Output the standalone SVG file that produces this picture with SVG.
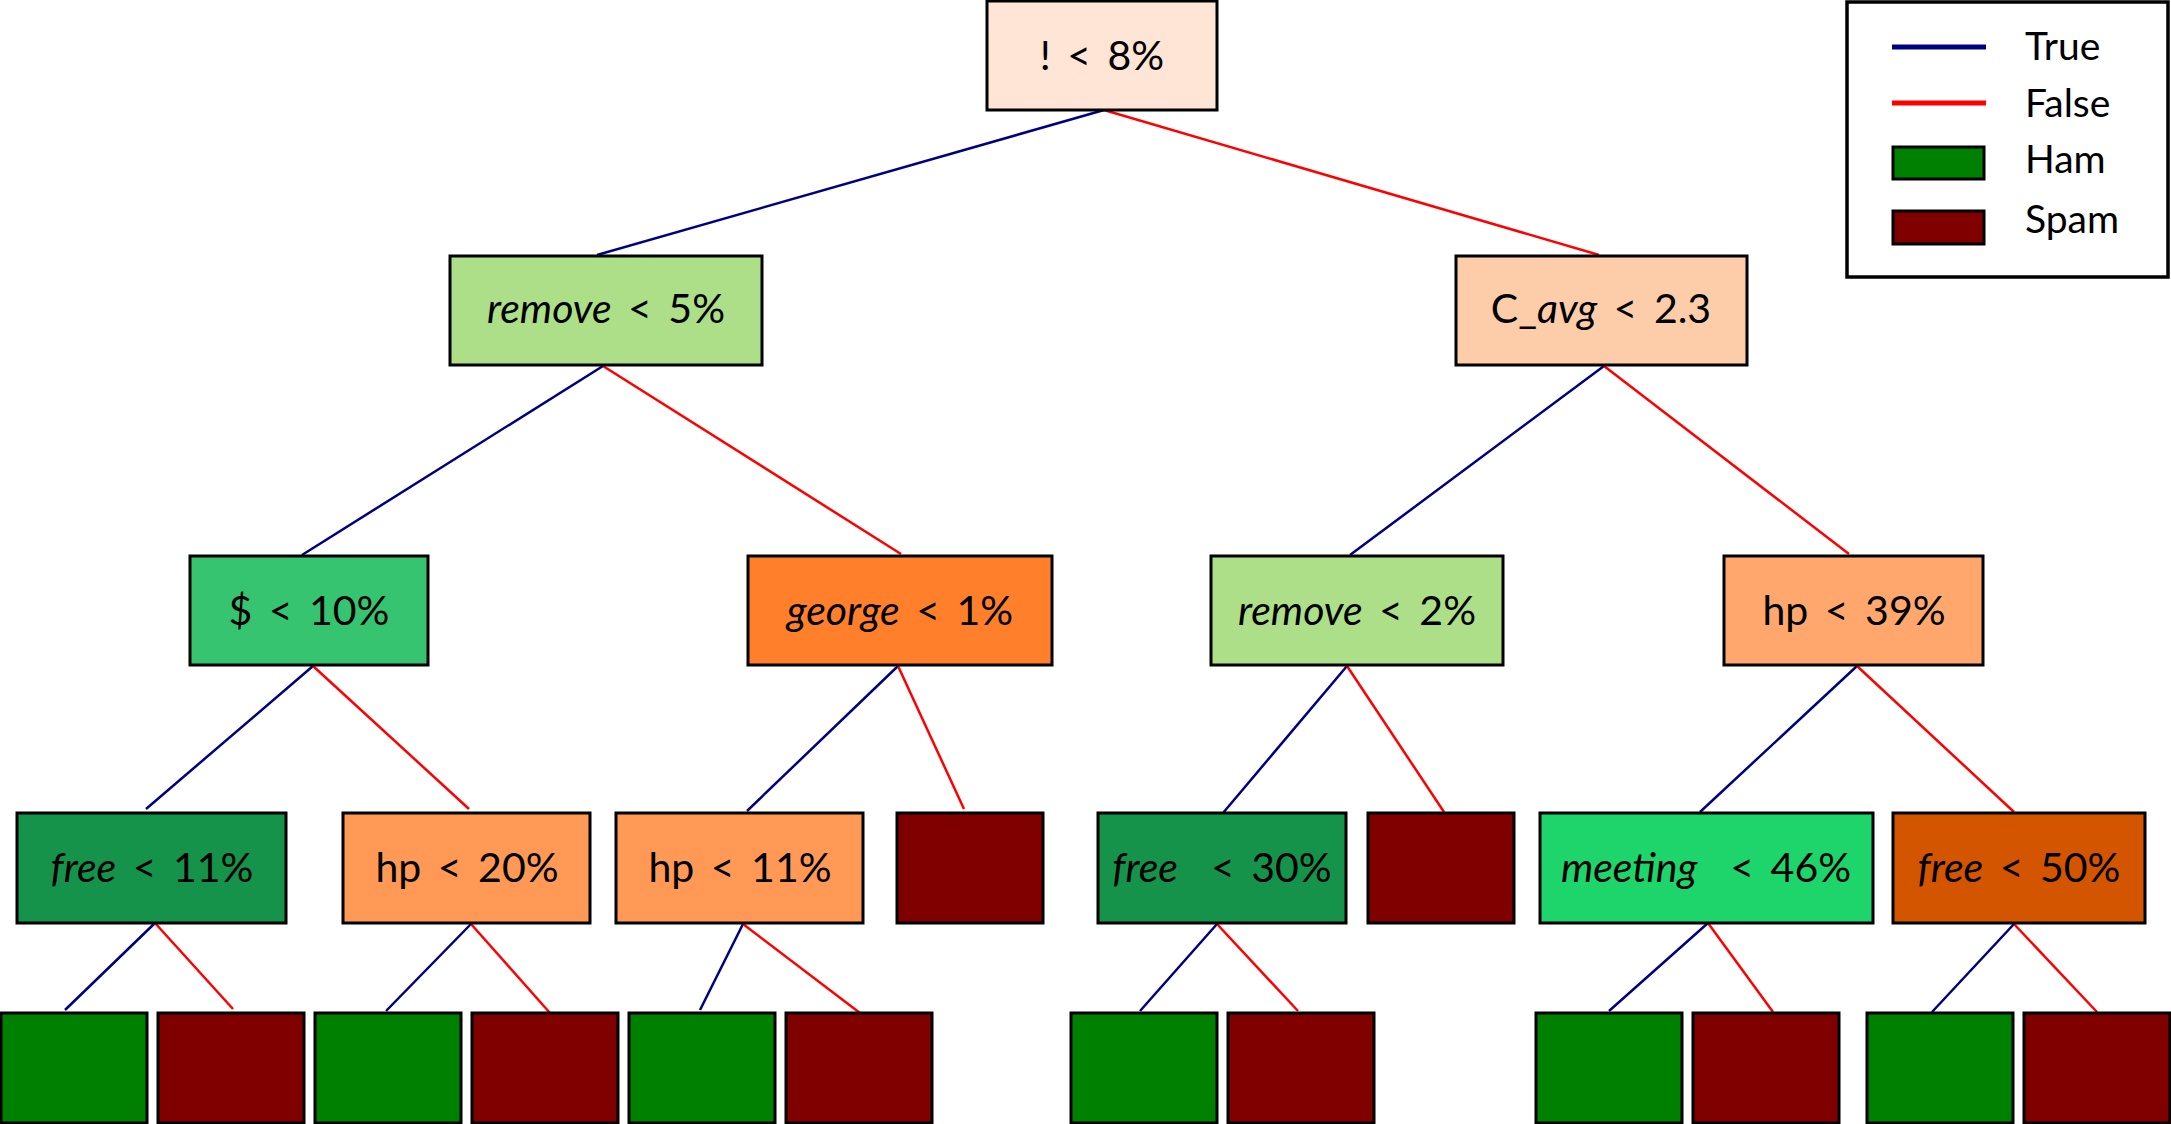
<svg xmlns="http://www.w3.org/2000/svg" width="2171" height="1124" viewBox="0 0 2171 1124">
<style>
.n{stroke:#000;stroke-width:3}
.t{font-family:Lato,"Open Sans","DejaVu Sans",sans-serif;font-size:41px;fill:#000;text-anchor:middle;white-space:pre;word-spacing:6px}
.i{font-style:italic}
.T{stroke:#000080;stroke-width:2.5;fill:none}
.F{stroke:#ff0000;stroke-width:2.5;fill:none}
.ham{fill:#008000}
.spam{fill:#800000}
.lg{font-family:Lato,"Open Sans","DejaVu Sans",sans-serif;font-size:39px;fill:#000}
</style>
<rect width="2171" height="1124" fill="#fff"/>
<g id="connectors">
<line class="T" x1="1104" y1="110" x2="597" y2="255"/>
<line class="F" x1="1104" y1="110" x2="1599" y2="255"/>
<line class="T" x1="603" y1="366" x2="302" y2="555"/>
<line class="F" x1="603" y1="366" x2="901" y2="554"/>
<line class="T" x1="1604" y1="366" x2="1350" y2="555"/>
<line class="F" x1="1604" y1="366" x2="1849" y2="554"/>
<line class="T" x1="313" y1="666" x2="146" y2="809"/>
<line class="F" x1="313" y1="666" x2="469" y2="809"/>
<line class="T" x1="898" y1="666" x2="747" y2="811"/>
<line class="F" x1="898" y1="666" x2="964" y2="809"/>
<line class="T" x1="1347" y1="666" x2="1223" y2="813"/>
<line class="F" x1="1347" y1="666" x2="1444" y2="812"/>
<line class="T" x1="1857" y1="666" x2="1700" y2="812"/>
<line class="F" x1="1857" y1="666" x2="2014" y2="812"/>
<line class="T" x1="155" y1="923" x2="65" y2="1010"/>
<line class="F" x1="155" y1="923" x2="233" y2="1009"/>
<line class="T" x1="471" y1="924" x2="386" y2="1011"/>
<line class="F" x1="471" y1="924" x2="550" y2="1013"/>
<line class="T" x1="743" y1="924" x2="700" y2="1010"/>
<line class="F" x1="743" y1="924" x2="860" y2="1013"/>
<line class="T" x1="1217" y1="924" x2="1140" y2="1011"/>
<line class="F" x1="1217" y1="924" x2="1298" y2="1011"/>
<line class="T" x1="1708" y1="923" x2="1609" y2="1011"/>
<line class="F" x1="1708" y1="923" x2="1773" y2="1012"/>
<line class="T" x1="2014" y1="924" x2="1932" y2="1012"/>
<line class="F" x1="2014" y1="924" x2="2097" y2="1012"/>
</g>
<g id="n_root"><rect class="n" x="987" y="1" width="230" height="109" fill="#fee5d5"/><text class="t" x="1102" y="70">! &lt; 8%</text></g>
<g id="n_remove5"><rect class="n" x="450" y="256" width="312" height="109" fill="#acdf87"/><text class="t" x="606" y="323"><tspan class="i">remove</tspan> &lt; 5%</text></g>
<g id="n_cavg"><rect class="n" x="1456" y="256" width="291" height="109" fill="#fdcca9"/><text class="t" x="1601" y="323">C_<tspan class="i">avg</tspan> &lt; 2.3</text></g>
<g id="n_dollar"><rect class="n" x="190" y="556" width="238" height="109" fill="#36c470"/><text class="t" x="309" y="625">$ &lt; 10%</text></g>
<g id="n_george"><rect class="n" x="748" y="556" width="304" height="109" fill="#ff7f2a"/><text class="t" x="900" y="625"><tspan class="i">george</tspan> &lt; 1%</text></g>
<g id="n_remove2"><rect class="n" x="1211" y="556" width="292" height="109" fill="#acdf87"/><text class="t" x="1357" y="625"><tspan class="i">remove</tspan> &lt; 2%</text></g>
<g id="n_hp39"><rect class="n" x="1724" y="556" width="259" height="109" fill="#ffa76d"/><text class="t" x="1854" y="625">hp &lt; 39%</text></g>
<g id="n_free11"><rect class="n" x="17" y="813" width="269" height="110" fill="#16934a"/><text class="t" x="152" y="882"><tspan class="i">free</tspan> &lt; 11%</text></g>
<g id="n_hp20"><rect class="n" x="343" y="813" width="247" height="110" fill="#ff9955"/><text class="t" x="467" y="882">hp &lt; 20%</text></g>
<g id="n_hp11"><rect class="n" x="616" y="813" width="247" height="110" fill="#ff9955"/><text class="t" x="740" y="882">hp &lt; 11%</text></g>
<g id="n_spam_l3a"><rect class="n spam" x="897" y="813" width="146" height="110"/></g>
<g id="n_free30"><rect class="n" x="1098" y="813" width="248" height="110" fill="#16934a"/><text class="t" x="1222" y="882"><tspan class="i">free</tspan>  &lt; 30%</text></g>
<g id="n_spam_l3b"><rect class="n spam" x="1368" y="813" width="146" height="110"/></g>
<g id="n_meeting"><rect class="n" x="1540" y="813" width="333" height="110" fill="#1dd56b"/><text class="t" x="1706" y="882"><tspan class="i">meeting</tspan>  &lt; 46%</text></g>
<g id="n_free50"><rect class="n" x="1893" y="813" width="252" height="110" fill="#d45500"/><text class="t" x="2019" y="882"><tspan class="i">free</tspan> &lt; 50%</text></g>
<g id="leaf1"><rect class="n ham" x="1" y="1013" width="146" height="110"/></g>
<g id="leaf2"><rect class="n spam" x="158" y="1013" width="146" height="110"/></g>
<g id="leaf3"><rect class="n ham" x="315" y="1013" width="146" height="110"/></g>
<g id="leaf4"><rect class="n spam" x="472" y="1013" width="146" height="110"/></g>
<g id="leaf5"><rect class="n ham" x="629" y="1013" width="146" height="110"/></g>
<g id="leaf6"><rect class="n spam" x="786" y="1013" width="146" height="110"/></g>
<g id="leaf7"><rect class="n ham" x="1071" y="1013" width="146" height="110"/></g>
<g id="leaf8"><rect class="n spam" x="1228" y="1013" width="146" height="110"/></g>
<g id="leaf9"><rect class="n ham" x="1536" y="1013" width="146" height="110"/></g>
<g id="leaf10"><rect class="n spam" x="1693" y="1013" width="146" height="110"/></g>
<g id="leaf11"><rect class="n ham" x="1867" y="1013" width="146" height="110"/></g>
<g id="leaf12"><rect class="n spam" x="2024" y="1013" width="146" height="110"/></g>
<g id="legend">
<rect x="1847" y="2" width="321" height="275" fill="#fff" stroke="#000" stroke-width="3.5"/>
<line x1="1892" y1="47" x2="1986" y2="47" stroke="#000080" stroke-width="5"/>
<line x1="1892" y1="103" x2="1986" y2="103" stroke="#ff0000" stroke-width="5"/>
<rect class="n ham" x="1893" y="147" width="91" height="32"/>
<rect class="n spam" x="1893" y="211" width="91" height="33"/>
<text class="lg" x="2025" y="60">True</text>
<text class="lg" x="2025" y="117">False</text>
<text class="lg" x="2025" y="173">Ham</text>
<text class="lg" x="2025" y="233">Spam</text>
</g>
</svg>
